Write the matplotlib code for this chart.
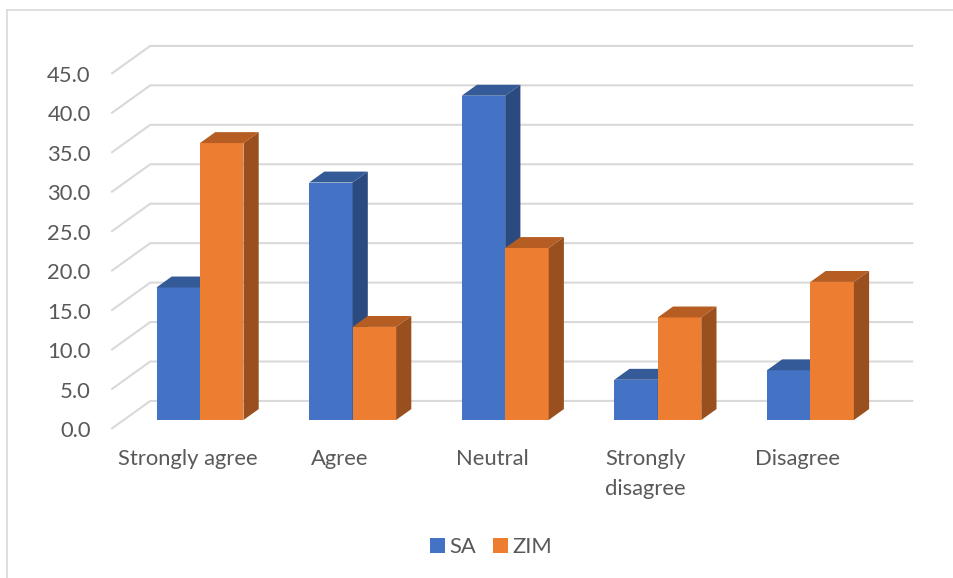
import matplotlib
matplotlib.use("Agg")
import matplotlib.pyplot as plt
from matplotlib.patches import Polygon, Patch
from matplotlib.lines import Line2D

# Survey responses (percent)
categories = ["Strongly agree", "Agree", "Neutral", "Strongly\ndisagree", "Disagree"]
sa_values = [16.8, 30.1, 41.1, 5.1, 6.3]
zim_values = [35.1, 11.8, 21.8, 13.0, 17.5]
series_names = ["SA", "ZIM"]
y_ticks = [0, 5, 10, 15, 20, 25, 30, 35, 40, 45]

# Colours: front, top, side
BLUE = ("#4472C4", "#345A97", "#2B4A7F")
ORANGE = ("#ED7D31", "#B55D22", "#9A4F1E")
GRID = "#D9D9D9"
TEXT = "#595959"

W, H, DPI = 954, 578, 100
fig = plt.figure(figsize=(W / DPI, H / DPI), dpi=DPI)
ax = fig.add_axes([0, 0, 1, 1])
ax.set_axis_off()

# Pixel scale of the plot: one category step and one value unit
PX_X = 152.6
PX_Y = 7.89
X0_PX = 200.0
Y0_PX = 420.0
ax.set_xlim(-X0_PX / PX_X, (W - X0_PX) / PX_X)
ax.set_ylim((Y0_PX - H) / PX_Y, Y0_PX / PX_Y)

# Oblique projection: depth z in [0, 1] shifts right and up
Z_FRONT_BAR, Z_BACK_BAR = 0.32, 0.71
KX = 39.0 / PX_X
KY = 28.0 / PX_Y


def proj(x, v, z):
    return (x + (z - Z_FRONT_BAR) * KX, v + (z - Z_FRONT_BAR) * KY)


font = dict(family="Lato", color=TEXT, fontsize=15.8)

# Walls: back-wall gridlines and the slanted side-wall lines
for v in y_ticks:
    x1, y1 = proj(-0.5, v, 0)
    x2, y2 = proj(-0.5, v, 1)
    x3, y3 = proj(4.5, v, 1)
    ax.plot([x1, x2, x3], [y1, y2, y3], color=GRID, lw=1.5,
            solid_capstyle="butt", solid_joinstyle="miter", zorder=1)
    ax.text(x1 - 0.135, y1, f"{v:.1f}", ha="right", va="center_baseline", **font)

# Bars with top and side faces
bw = 0.285
for i in range(len(categories)):
    for j, (vals, cols) in enumerate(((sa_values, BLUE), (zim_values, ORANGE))):
        v = vals[i]
        xl = i - bw if j == 0 else i
        xr = xl + bw
        ax.bar(xl + bw / 2, v, width=bw, color=cols[0], zorder=3 + j, linewidth=0)
        top = [proj(xl, v, Z_FRONT_BAR), proj(xr, v, Z_FRONT_BAR),
               proj(xr, v, Z_BACK_BAR), proj(xl, v, Z_BACK_BAR)]
        side = [proj(xr, 0, Z_FRONT_BAR), proj(xr, v, Z_FRONT_BAR),
                proj(xr, v, Z_BACK_BAR), proj(xr, 0, Z_BACK_BAR)]
        ax.add_patch(Polygon(side, closed=True, facecolor=cols[2], lw=0, zorder=3 + j))
        ax.add_patch(Polygon(top, closed=True, facecolor=cols[1], lw=0, zorder=3 + j))

# Category labels on the front edge of the floor
for i, name in enumerate(categories):
    x, _ = proj(i, 0, 0)
    ax.text(x, (Y0_PX - 449) / PX_Y, name, ha="center", va="top",
            linespacing=1.62, **font)

# Legend
handles = [Patch(facecolor=BLUE[0], edgecolor="none"),
           Patch(facecolor=ORANGE[0], edgecolor="none")]
leg = fig.legend(handles, series_names, loc="center", ncol=2, frameon=False,
                 bbox_to_anchor=(491 / W, 1 - 547 / H),
                 handlelength=0.66, handleheight=0.66, handletextpad=0.2,
                 columnspacing=0.8, prop=dict(family="Lato", size=15.8))
for t in leg.get_texts():
    t.set_color(TEXT)

# Chart frame
fig.add_artist(Line2D([7 / W, 1], [1 - 10 / H, 1 - 10 / H], color=GRID, lw=1.2,
                      transform=fig.transFigure))
fig.add_artist(Line2D([7 / W, 7 / W], [0, 1 - 10 / H], color=GRID, lw=1.2,
                      transform=fig.transFigure))

fig.savefig("out.png", dpi=DPI, facecolor="white")
